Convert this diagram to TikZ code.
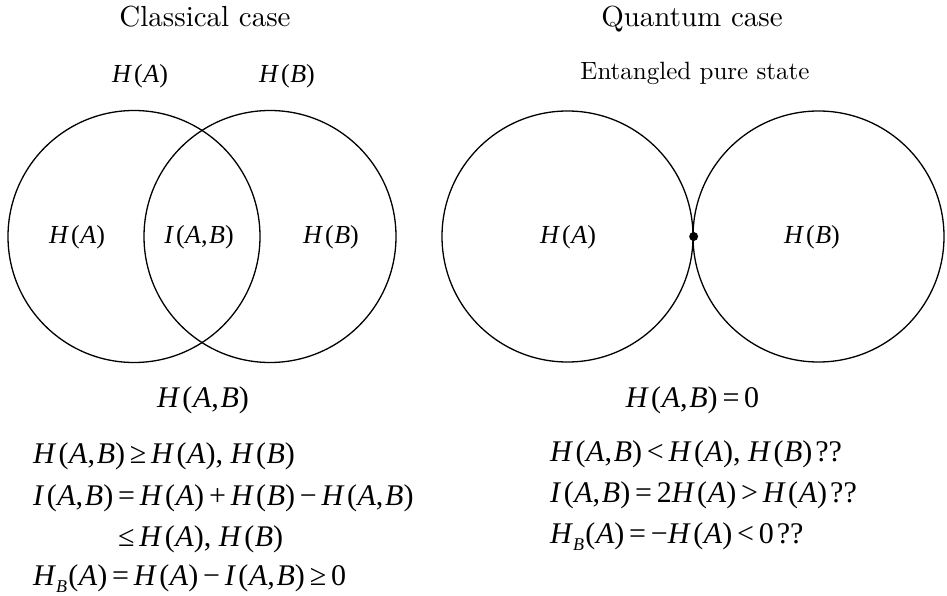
\documentclass[tikz,border=0pt]{standalone}
\usepackage{fontspec}
\setmainfont{lmroman10-regular.otf}
\newfontfamily\tms{Liberation Serif}
\newcommand\iv[1]{\textit{#1}}
\newcommand\HA{\iv{H}\kern.08em(\kern.02em\iv{A})}
\newcommand\HB{\iv{H}\kern.08em(\kern.02em\iv{B})}
\newcommand\HAB{\iv{H}\kern.08em(\kern.02em\iv{A},\kern.06em\iv{B})}
\newcommand\IAB{\iv{I}\kern.08em(\kern.02em\iv{A},\kern.06em\iv{B})}
\newcommand\HsB{\iv{H}\raisebox{-.24em}{\fontsize{18}{18}\selectfont\iv{B}}\kern.04em(\kern.02em\iv{A})}
\newcommand\op[1]{\kern.16em#1\kern.16em}
\begin{document}
\begin{tikzpicture}[x=1pt,y=-1pt,
  title/.style={inner sep=0, anchor=base, font=\fontsize{29}{34}\selectfont},
  subtitle/.style={inner sep=0, anchor=base, font=\fontsize{25}{30}\selectfont},
  lab/.style={inner sep=0, anchor=base, font=\tms\fontsize{26}{30}\selectfont},
  eq/.style={inner sep=0, anchor=base west, font=\tms\fontsize{30}{36}\selectfont},
  eqc/.style={inner sep=0, anchor=base, font=\tms\fontsize{30}{36}\selectfont},
  ring/.style={circle, draw, line width=1.3pt, inner sep=0},
  dotn/.style={circle, fill, inner sep=0, minimum size=9pt}]
\useasboundingbox (0,0) rectangle (947,596);

% Classical
\node[title] (tc) at (205,27) {Classical case};
\node[lab] (ta) at (140,83) {\HA};
\node[lab] (tb) at (287,83) {\HB};
\node[ring, minimum size=252pt] (cA) at (134,236.5) {};
\node[ring, minimum size=252pt] (cB) at (270,236.5) {};
\node[lab] (la) at (77,243) {\HA};
\node[lab] (li) at (199,243) {\IAB};
\node[lab] (lb) at (331,243) {\HB};
\node[eqc] (hab) at (203,407) {\HAB};
\node[eq] (e1) at (33,463) {\HAB\op{≥}\HA, \HB};
\node[eq] (e2) at (33,505) {\IAB\op{=}\HA\op{+}\HB\op{−}\HAB};
\node[eq] (e3) at (118,546) {≤\kern.16em\HA, \HB};
\node[eq] (e4) at (33,585) {\HsB\op{=}\HA\op{−}\IAB\op{≥}0};

% Quantum
\node[title] (tq) at (692,27) {Quantum case};
\node[subtitle] (ts) at (695,80) {Entangled pure state};
\node[ring, minimum size=251pt] (qA) at (567.5,236.5) {};
\node[ring, minimum size=251pt] (qB) at (818.5,236.5) {};
\node[dotn] (dot) at (qA.east) {};
\node[lab] (qa) at (568,243) {\HA};
\node[lab] (qb) at (812,243) {\HB};
\node[eqc] (qhab) at (692.5,407) {\HAB\op{=}0};
\node[eq] (q1) at (550,461) {\HAB\op{<}\HA, \HB\kern.1em??};
\node[eq] (q2) at (550,502) {\IAB\op{=}2\HA\op{>}\HA\kern.1em??};
\node[eq] (q3) at (550,543) {\HsB\op{=}−\HA\op{<}0\kern.1em??};
\end{tikzpicture}
\end{document}
